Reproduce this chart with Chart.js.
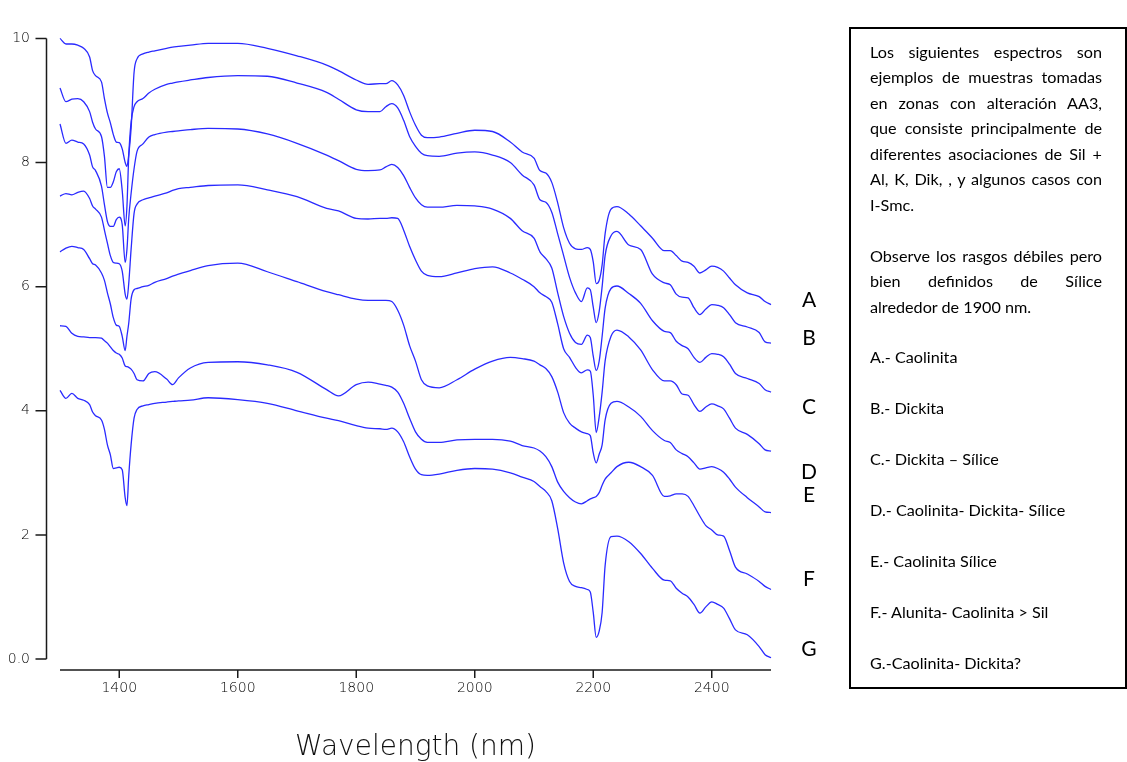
<!DOCTYPE html>
<html>
<head>
<meta charset="utf-8">
<title>Espectros AA3</title>
<script src="https://cdn.jsdelivr.net/npm/chart.js@4.4.0/dist/chart.umd.min.js"></script>
<style>
  body { margin: 0; background: #fff; }
  #wrap { position: relative; width: 1127px; height: 762px; overflow: hidden; }
  #spectra { position: absolute; left: 0; top: 0; }
  .tag { position: absolute; left: 799px; width: 20px; text-align: center;
         font: 21px Lato, "Open Sans", sans-serif; line-height: 24px; color: #000; }
  #note { position: absolute; left: 849px; top: 27px; width: 278px; height: 662px;
          box-sizing: border-box; border: 2px solid #000; padding: 10px 23px 0 19px;
          font: 16.2px Lato, "Open Sans", sans-serif; line-height: 25.46px; color: #000; }
  #note div { white-space: nowrap; height: 25.46px; }
  #note .j { text-align: justify; text-align-last: justify; white-space: normal; }
</style>
</head>
<body>
<div id="wrap">
  <canvas id="spectra" width="1127" height="762"></canvas>

  <div class="tag" style="top:287px">A</div>
  <div class="tag" style="top:325px">B</div>
  <div class="tag" style="top:394px">C</div>
  <div class="tag" style="top:459px">D</div>
  <div class="tag" style="top:482px">E</div>
  <div class="tag" style="top:566px">F</div>
  <div class="tag" style="top:636px">G</div>

  <div id="note">
    <div class="j">Los siguientes espectros son</div>
    <div class="j">ejemplos de muestras tomadas</div>
    <div class="j">en zonas con alteración AA3,</div>
    <div class="j">que consiste principalmente de</div>
    <div class="j">diferentes asociaciones de Sil +</div>
    <div class="j">Al, K, Dik, , y algunos casos con</div>
    <div>I-Smc.</div>
    <div></div>
    <div class="j">Observe los rasgos débiles pero</div>
    <div class="j">bien definidos de Sílice</div>
    <div>alrededor de 1900 nm.</div>
    <div></div>
    <div>A.- Caolinita</div>
    <div></div>
    <div>B.- Dickita</div>
    <div></div>
    <div>C.- Dickita – Sílice</div>
    <div></div>
    <div>D.- Caolinita- Dickita- Sílice</div>
    <div></div>
    <div>E.- Caolinita Sílice</div>
    <div></div>
    <div>F.- Alunita- Caolinita &gt; Sil</div>
    <div></div>
    <div>G.-Caolinita- Dickita?</div>
  </div>
</div>

<script>
// wavelength grid (nm), shared by every spectrum
const wavelengths = [1300,1310,1320,1330,1340,1350,1355,1360,1370,1375,
  1380,1385,1390,1395,1400,1405,1410,1413,1416,1420,
  1425,1430,1440,1450,1460,1480,1490,1500,1520,1550,
  1600,1650,1700,1750,1770,1800,1820,1840,1850,1860,
  1870,1880,1890,1900,1910,1920,1940,1970,2000,2030,
  2060,2080,2100,2110,2120,2130,2140,2150,2160,2170,
  2180,2190,2195,2200,2205,2210,2215,2220,2230,2240,
  2260,2280,2300,2320,2330,2340,2350,2360,2370,2380,
  2390,2400,2410,2420,2430,2440,2460,2480,2490,2500];

// offset reflectance of each sample
const specA = [10.0,9.91,9.91,9.89,9.84,9.70,9.48,9.40,9.30,9.03,
  8.80,8.64,8.45,8.33,8.32,8.22,8.00,7.94,8.12,8.55,
  9.45,9.67,9.75,9.78,9.80,9.84,9.86,9.87,9.89,9.92,
  9.92,9.84,9.72,9.57,9.48,9.33,9.26,9.27,9.27,9.32,
  9.25,9.08,8.82,8.60,8.44,8.40,8.41,8.47,8.52,8.50,
  8.33,8.17,8.07,7.87,7.83,7.68,7.35,6.95,6.70,6.61,
  6.60,6.63,6.60,6.40,6.05,6.10,6.35,6.85,7.25,7.29,
  7.17,6.98,6.78,6.58,6.58,6.50,6.41,6.39,6.33,6.22,
  6.27,6.33,6.31,6.25,6.14,6.03,5.90,5.84,5.76,5.71];

const specB = [9.20,8.98,9.02,9.03,8.98,8.82,8.65,8.54,8.42,8.10,
  7.60,7.60,7.69,7.85,7.90,7.55,6.98,7.30,8.10,8.65,
  8.90,8.98,9.03,9.12,9.18,9.26,9.28,9.30,9.33,9.37,
  9.40,9.39,9.28,9.13,9.02,8.85,8.82,8.82,8.90,8.95,
  8.88,8.68,8.42,8.26,8.15,8.11,8.10,8.15,8.17,8.12,
  8.00,7.80,7.64,7.40,7.36,7.20,6.85,6.50,6.15,5.90,
  5.76,5.98,5.95,5.67,5.42,5.60,6.00,6.50,6.82,6.89,
  6.67,6.60,6.20,6.06,6.03,5.88,5.83,5.82,5.66,5.55,
  5.64,5.71,5.70,5.66,5.55,5.42,5.35,5.26,5.11,5.09];

const specC = [8.62,8.31,8.36,8.33,8.30,8.12,7.93,7.87,7.62,7.32,
  7.05,6.97,6.97,7.08,7.12,7.00,6.39,6.60,7.10,7.50,
  7.90,8.18,8.30,8.41,8.45,8.49,8.50,8.51,8.53,8.55,
  8.54,8.46,8.31,8.12,8.03,7.89,7.87,7.88,7.93,7.97,
  7.92,7.79,7.60,7.43,7.32,7.28,7.28,7.31,7.30,7.25,
  7.10,6.90,6.78,6.56,6.45,6.30,5.90,5.52,5.25,5.10,
  5.07,5.22,5.18,4.88,4.65,4.80,5.20,5.65,5.97,6.01,
  5.89,5.73,5.45,5.28,5.26,5.12,5.05,5.00,4.86,4.78,
  4.86,4.92,4.91,4.87,4.75,4.60,4.52,4.44,4.34,4.30];

const specD = [7.46,7.50,7.48,7.52,7.54,7.42,7.30,7.25,7.12,6.91,
  6.70,6.50,6.39,6.38,6.37,6.25,5.88,5.80,6.05,6.60,
  7.18,7.33,7.40,7.43,7.46,7.51,7.55,7.58,7.60,7.63,
  7.64,7.56,7.45,7.26,7.22,7.10,7.09,7.10,7.10,7.11,
  7.10,6.91,6.65,6.43,6.25,6.18,6.16,6.22,6.29,6.32,
  6.22,6.12,6.00,5.90,5.84,5.75,5.40,5.00,4.86,4.70,
  4.61,4.66,4.64,4.25,3.65,3.90,4.30,4.80,5.20,5.30,
  5.19,4.98,4.66,4.48,4.48,4.42,4.27,4.25,4.10,3.99,
  4.06,4.11,4.08,4.03,3.88,3.72,3.62,3.47,3.37,3.35];

const specE = [6.56,6.62,6.65,6.63,6.60,6.45,6.37,6.35,6.22,6.10,
  5.90,5.72,5.50,5.38,5.36,5.20,4.97,5.20,5.41,5.80,
  5.95,5.97,6.00,6.02,6.07,6.13,6.17,6.20,6.26,6.34,
  6.38,6.24,6.08,5.92,5.87,5.80,5.78,5.78,5.78,5.76,
  5.62,5.38,5.05,4.80,4.50,4.40,4.37,4.50,4.67,4.80,
  4.86,4.84,4.80,4.74,4.68,4.55,4.30,3.97,3.80,3.72,
  3.66,3.63,3.60,3.32,3.16,3.30,3.45,3.85,4.12,4.15,
  4.06,3.91,3.68,3.52,3.49,3.37,3.31,3.26,3.16,3.06,
  3.08,3.10,3.07,3.01,2.90,2.77,2.60,2.45,2.37,2.36];

const specF = [5.37,5.36,5.25,5.20,5.19,5.18,5.18,5.18,5.17,5.13,
  5.09,5.03,4.97,4.93,4.91,4.85,4.72,4.71,4.70,4.67,
  4.60,4.50,4.48,4.60,4.63,4.51,4.42,4.53,4.69,4.78,
  4.79,4.74,4.62,4.34,4.24,4.42,4.46,4.43,4.41,4.38,
  4.30,4.12,3.88,3.66,3.54,3.49,3.49,3.53,3.54,3.54,
  3.51,3.44,3.40,3.35,3.26,3.10,2.85,2.70,2.60,2.53,
  2.50,2.55,2.58,2.60,2.62,2.68,2.80,2.90,3.00,3.10,
  3.17,3.10,2.96,2.62,2.63,2.66,2.66,2.62,2.47,2.30,
  2.15,2.08,2.00,1.98,1.75,1.48,1.37,1.25,1.17,1.12];

const specG = [4.33,4.20,4.28,4.20,4.17,4.10,3.98,3.92,3.85,3.70,
  3.45,3.29,3.07,3.08,3.09,3.05,2.60,2.47,2.95,3.45,
  3.88,4.02,4.08,4.10,4.12,4.14,4.15,4.16,4.17,4.21,
  4.18,4.12,4.00,3.88,3.84,3.76,3.72,3.71,3.70,3.72,
  3.66,3.50,3.26,3.06,2.97,2.96,2.98,3.04,3.07,3.06,
  3.00,2.93,2.86,2.78,2.70,2.55,2.10,1.55,1.25,1.17,
  1.15,1.12,1.08,0.75,0.35,0.45,0.75,1.50,1.97,1.98,
  1.89,1.70,1.46,1.27,1.26,1.14,1.06,1.00,0.88,0.74,
  0.84,0.92,0.88,0.82,0.65,0.47,0.39,0.20,0.07,0.02];

const sampleNames = ['A', 'B', 'C', 'D', 'E', 'F', 'G'];
const spectra = [specA, specB, specC, specD, specE, specF, specG];

const xTickValues = [1400, 1600, 1800, 2000, 2200, 2400];
const yTickValues = [0, 2, 4, 6, 8, 10];
const xTitle = 'Wavelength (nm)';

const tickFont = { family: 'DejaVu Sans', size: 14, weight: 200 };

// axes are drawn a little away from the plot, like the original software does
const detachedAxes = {
  id: 'detachedAxes',
  afterDraw(chart) {
    const { ctx, chartArea, scales: { x, y } } = chart;
    ctx.save();
    ctx.strokeStyle = '#1a1a1a';
    ctx.lineWidth = 1.5;
    ctx.beginPath();
    const ax = chartArea.left - 13.5;
    ctx.moveTo(ax, y.getPixelForValue(y.max));
    ctx.lineTo(ax, y.getPixelForValue(y.min));
    y.ticks.forEach(t => {
      const py = y.getPixelForValue(t.value);
      ctx.moveTo(ax, py);
      ctx.lineTo(ax - 11, py);
    });
    const ay = chartArea.bottom + 11;
    ctx.moveTo(x.getPixelForValue(x.min), ay);
    ctx.lineTo(x.getPixelForValue(x.max), ay);
    x.ticks.forEach(t => {
      const px = x.getPixelForValue(t.value);
      ctx.moveTo(px, ay);
      ctx.lineTo(px, ay + 8);
    });
    ctx.stroke();
    ctx.restore();
  }
};

const ctx = document.getElementById('spectra');
const chart = new Chart(ctx, {
  type: 'line',
  data: {
    datasets: spectra.map((vals, i) => ({
      label: sampleNames[i],
      data: vals.map((v, j) => ({ x: wavelengths[j], y: v })),
      borderColor: '#2a2aff',
      borderWidth: 1.3,
      pointRadius: 0,
      cubicInterpolationMode: 'monotone',
      clip: false,
      fill: false,
    })),
  },
  options: {
    responsive: false,
    animation: false,
    devicePixelRatio: 1,
    layout: { padding: { top: 14, right: 356, left: 0, bottom: 0 } },
    plugins: { legend: { display: false }, tooltip: { enabled: false } },
    scales: {
      x: {
        type: 'linear',
        min: 1300,
        max: 2500,
        afterBuildTicks: s => { s.ticks = xTickValues.map(v => ({ value: v })); },
        afterFit: s => { s.height = 103; },
        grid: { display: false, drawTicks: false },
        border: { display: false },
        ticks: {
          padding: 21,
          font: tickFont,
          color: '#000',
          maxRotation: 0,
          autoSkip: false,
          callback: v => String(v),
        },
        title: {
          display: true,
          text: xTitle,
          color: '#111',
          font: { family: 'DejaVu Sans', size: 28, weight: 200, lineHeight: 1 },
          padding: { top: 0, bottom: 0 },
        },
      },
      y: {
        type: 'linear',
        min: 0,
        max: 10,
        afterBuildTicks: s => { s.ticks = yTickValues.map(v => ({ value: v })); },
        afterFit: s => { s.width = 60; },
        grid: { display: false, drawTicks: false },
        border: { display: false },
        ticks: {
          padding: 30,
          font: tickFont,
          color: '#000',
          callback: v => (v === 0 ? '0.0' : String(v)),
        },
      },
    },
  },
  plugins: [detachedAxes],
});
</script>
</body>
</html>
